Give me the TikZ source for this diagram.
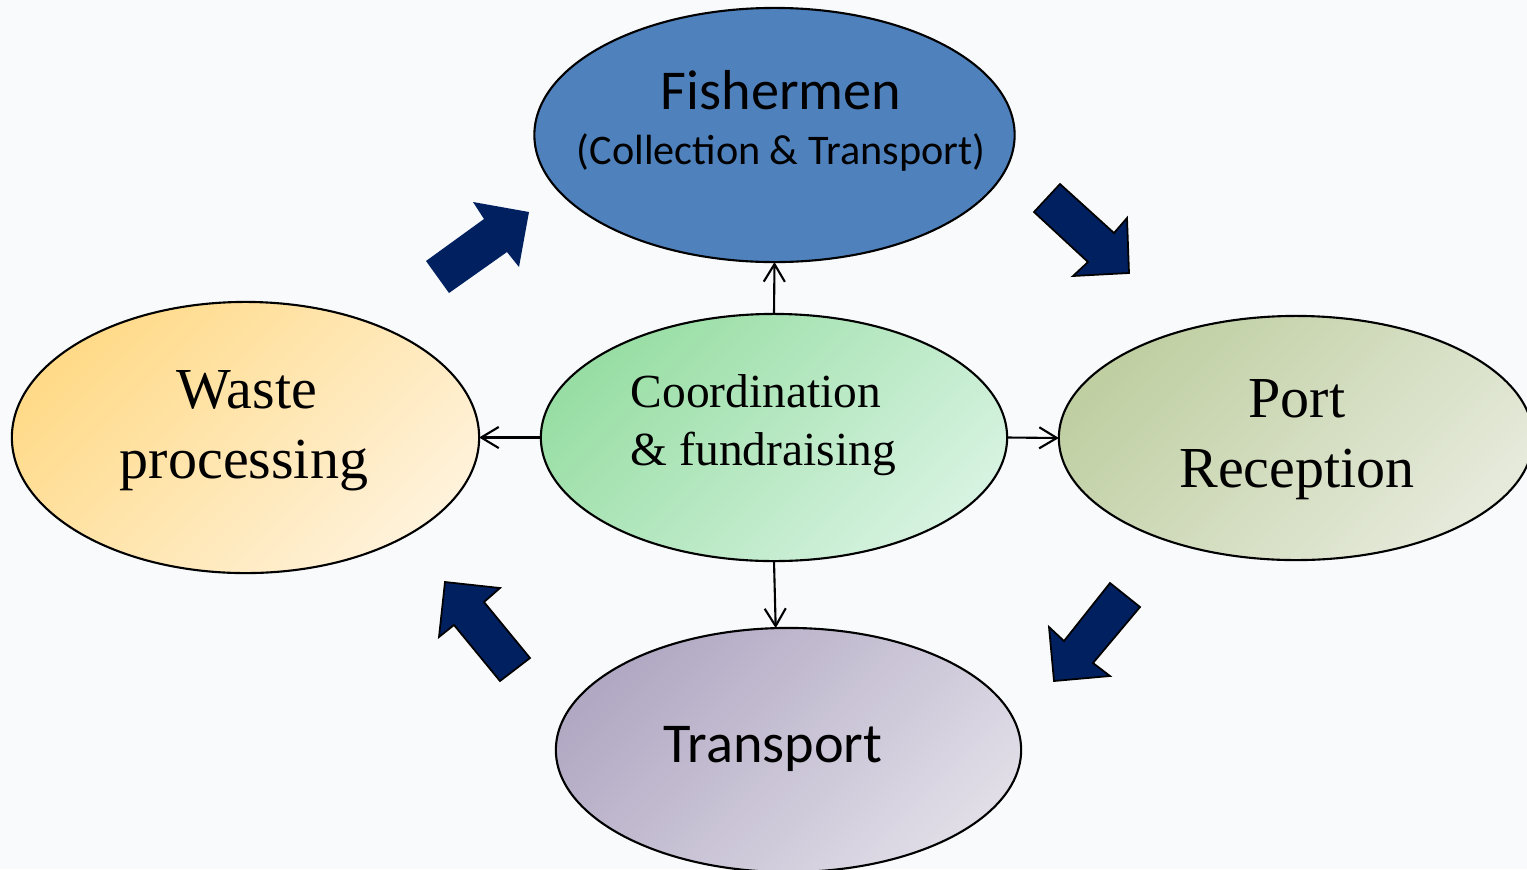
\documentclass[tikz,border=0pt]{standalone}
\usepackage{fontspec}
\setmainfont{Liberation Serif}
\newfontfamily\calib{Carlito}
\usetikzlibrary{shapes.geometric,arrows.meta}
\definecolor{bg}{HTML}{F8FAFC}
\definecolor{navy}{HTML}{002060}
\definecolor{fishblue}{HTML}{4F81BD}
\definecolor{wasteA}{HTML}{FFDA88}
\definecolor{wasteB}{HTML}{FFF2DA}
\definecolor{coordA}{HTML}{98DEA4}
\definecolor{coordB}{HTML}{D6F2E0}
\definecolor{portA}{HTML}{BFCFA2}
\definecolor{portB}{HTML}{E6EADB}
\definecolor{transA}{HTML}{B1A8C3}
\definecolor{transB}{HTML}{E0DDE7}
\tikzset{
  ell/.style={ellipse, draw=black, line width=0.6pt, inner sep=0pt, outer sep=0pt},
  conn/.style={line width=0.6pt, -{Straight Barb[length=5pt,width=6pt,line width=0.6pt]}},
  bigarrow/.style={fill=navy, draw=black, line width=0.5pt, line join=miter},
  sanslbl/.style={font=\calib\fontsize{16}{19}\selectfont, inner sep=0pt},
  sanssmall/.style={font=\calib\fontsize{12}{14}\selectfont, inner sep=0pt},
  seriflbl/.style={font=\fontsize{16.5}{19}\selectfont, inner sep=0pt},
  serifmid/.style={font=\fontsize{13.5}{16}\selectfont, inner sep=0pt}
}
\begin{document}
\begin{tikzpicture}[x=0.01cm,y=-0.01cm]
\path[fill=bg] (0,0) rectangle (1527,869);
\useasboundingbox (0,0) rectangle (1527,869);

% ellipses
\node[ell, minimum width=4.8cm, minimum height=2.54cm, fill=fishblue] (fish) at (774.5,135) {};
\node[ell, minimum width=4.67cm, minimum height=2.71cm, top color=wasteA, bottom color=wasteB, shading angle=45] (waste) at (245.5,437.5) {};
\node[ell, minimum width=4.66cm, minimum height=2.47cm, top color=coordA, bottom color=coordB, shading angle=45] (coord) at (774,437.5) {};
\node[ell, minimum width=4.74cm, minimum height=2.44cm, top color=portA, bottom color=portB, shading angle=45] (port) at (1296,438) {};
\node[ell, minimum width=4.65cm, minimum height=2.44cm, top color=transA, bottom color=transB, shading angle=45] (transport) at (788.5,750) {};

% labels
\node[sanslbl, anchor=base] (fishA) at (781,109) {Fishermen};
\node[sanssmall, anchor=base] (fishB) at (781,164) {(Collection \& Transport)};
\node[seriflbl, anchor=base] (wasteA) at (247,408) {Waste};
\node[seriflbl, anchor=base] (wasteB) at (244,478) {processing};
\node[serifmid, anchor=base west] (coordA) at (630,407) {Coordination};
\node[serifmid, anchor=base west] (coordB) at (630,465) {\& fundraising};
\node[seriflbl, anchor=base] (portA) at (1297,417) {Port};
\node[seriflbl, anchor=base] (portB) at (1297,487) {Reception};
\node[sanslbl, anchor=base] (transA) at (773,762) {Transport};

% connectors
\draw[conn] (coord.north) -- (fish.south);
\draw[conn] (coord.west) -- (waste.east);
\draw[conn] (coord.east) -- (port.west);
\draw[conn] (coord.south) -- (transport.96);

% block arrows
\fill[navy] (426,261) -- (484,219) -- (473,202) -- (529,212) -- (519,267) -- (507,252) -- (449,293) -- cycle;
\draw[bigarrow] (1034,212) -- (1060,184) -- (1114,233) -- (1127,218) -- (1129,273) -- (1073,276) -- (1088,262) -- cycle;
\draw[bigarrow] (1110,583) -- (1140,607) -- (1093,663) -- (1110,676) -- (1054,681) -- (1049,627) -- (1064,641) -- cycle;
\draw[bigarrow] (530,658) -- (500,681) -- (454,625) -- (439,637) -- (445,582) -- (500,588) -- (484,602) -- cycle;
\end{tikzpicture}
\end{document}
